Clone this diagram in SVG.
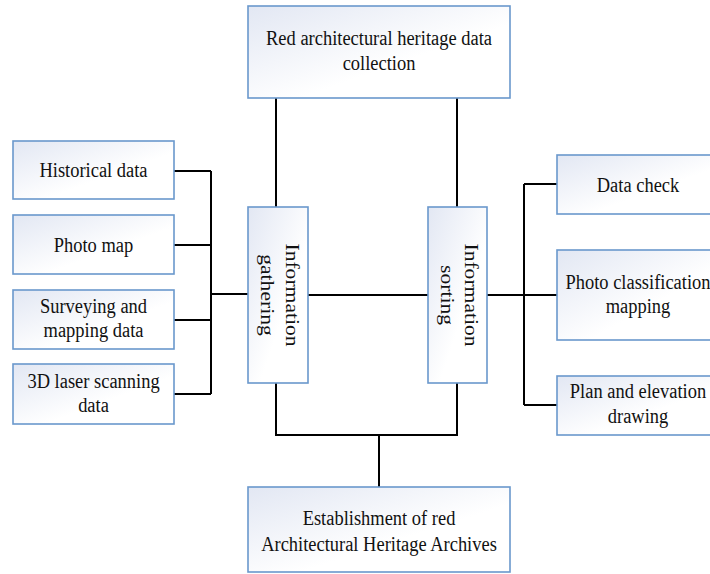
<svg xmlns="http://www.w3.org/2000/svg" width="710" height="574" viewBox="0 0 710 574">
  <defs>
    <linearGradient id="boxFill" x1="0" y1="0" x2="1" y2="1">
      <stop offset="0" stop-color="#e2e7f3"/>
      <stop offset="0.6" stop-color="#ffffff"/>
      <stop offset="1" stop-color="#ffffff"/>
    </linearGradient>
    <style>
      .box { fill: url(#boxFill); stroke: #6a98cc; stroke-width: 1.6; }
      .lbl { font-family: "Liberation Serif", "Times New Roman", serif; font-size: 21.6px; fill: #111; text-anchor: middle; }
      .wire { fill: none; stroke: #000; stroke-width: 2; }
    </style>
  </defs>
  <rect width="710" height="574" fill="#ffffff"/>

  <!-- connectors -->
  <g id="connectors" class="wire">
    <!-- source branches into gathering -->
    <polyline points="174,171 211,171"/>
    <polyline points="174,245 211,245"/>
    <polyline points="174,320 211,320"/>
    <polyline points="174,394 211,394"/>
    <polyline points="211,171 211,394"/>
    <polyline points="211,294 248,294"/>
    <!-- top collection box down to both columns -->
    <polyline points="276,98 276,207"/>
    <polyline points="457,98 457,207"/>
    <!-- gathering to sorting -->
    <polyline points="308,295 428,295"/>
    <!-- sorting out to results -->
    <polyline points="487,295 557,295"/>
    <polyline points="524,184 524,405"/>
    <polyline points="524,184 557,184"/>
    <polyline points="524,405 557,405"/>
    <!-- both columns down to archives -->
    <polyline points="276,383 276,435 457,435 457,383"/>
    <polyline points="379,435 379,487"/>
  </g>

  <!-- labels use a narrowed serif face (scaled 0.855 horizontally) -->
  <g id="collection">
    <rect class="box" x="248" y="6" width="262" height="92"/>
    <g transform="translate(379,0) scale(0.855,1)">
      <text class="lbl" x="0" y="45">Red architectural heritage data</text>
      <text class="lbl" x="0" y="70">collection</text>
    </g>
  </g>

  <g id="historical">
    <rect class="box" x="13" y="141" width="161" height="58"/>
    <g transform="translate(93.5,0) scale(0.855,1)">
      <text class="lbl" x="0" y="177">Historical data</text>
    </g>
  </g>
  <g id="photo-map">
    <rect class="box" x="13" y="215" width="161" height="59"/>
    <g transform="translate(93.5,0) scale(0.855,1)">
      <text class="lbl" x="0" y="252">Photo map</text>
    </g>
  </g>
  <g id="surveying">
    <rect class="box" x="13" y="290" width="161" height="59"/>
    <g transform="translate(93.5,0) scale(0.855,1)">
      <text class="lbl" x="0" y="313">Surveying and</text>
      <text class="lbl" x="0" y="337">mapping data</text>
    </g>
  </g>
  <g id="laser">
    <rect class="box" x="13" y="364" width="161" height="60"/>
    <g transform="translate(93.5,0) scale(0.855,1)">
      <text class="lbl" x="0" y="388">3D laser scanning</text>
      <text class="lbl" x="0" y="412">data</text>
    </g>
  </g>

  <g id="gathering">
    <rect class="box" x="248" y="207" width="60" height="176"/>
    <g transform="translate(278,295) scale(0.855,1) rotate(90)">
      <text class="lbl" x="0" y="-8.8">Information</text>
      <text class="lbl" x="0" y="19.3">gathering</text>
    </g>
  </g>

  <g id="sorting">
    <rect class="box" x="428" y="207" width="59" height="176"/>
    <g transform="translate(457.5,295) scale(0.855,1) rotate(90)">
      <text class="lbl" x="0" y="-8.8">Information</text>
      <text class="lbl" x="0" y="19.3">sorting</text>
    </g>
  </g>

  <g id="data-check">
    <rect class="box" x="557" y="155" width="162" height="59"/>
    <g transform="translate(638,0) scale(0.855,1)">
      <text class="lbl" x="0" y="192">Data check</text>
    </g>
  </g>
  <g id="photo-classification">
    <rect class="box" x="557" y="250" width="162" height="90"/>
    <g transform="translate(638,0) scale(0.855,1)">
      <text class="lbl" x="0" y="289">Photo classification</text>
      <text class="lbl" x="0" y="313">mapping</text>
    </g>
  </g>
  <g id="plan-elevation">
    <rect class="box" x="557" y="376" width="162" height="59"/>
    <g transform="translate(638,0) scale(0.855,1)">
      <text class="lbl" x="0" y="398">Plan and elevation</text>
      <text class="lbl" x="0" y="423">drawing</text>
    </g>
  </g>

  <g id="archives">
    <rect class="box" x="248" y="487" width="262" height="85"/>
    <g transform="translate(379,0) scale(0.855,1)">
      <text class="lbl" x="0" y="525">Establishment of red</text>
      <text class="lbl" x="0" y="551">Architectural Heritage Archives</text>
    </g>
  </g>
</svg>
